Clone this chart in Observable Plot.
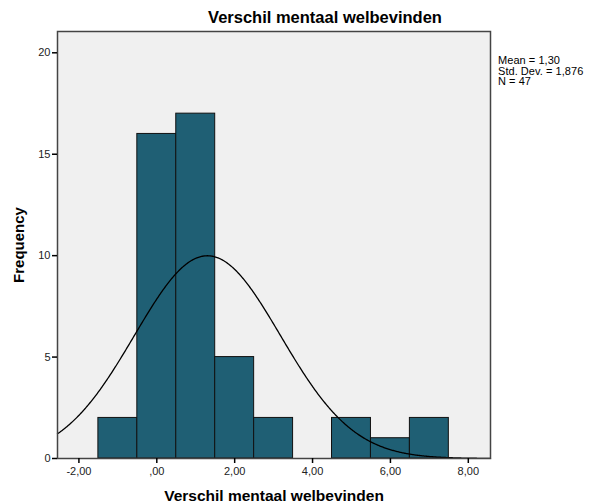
<!DOCTYPE html>
<html>
<head>
<meta charset="utf-8">
<script src="https://cdn.jsdelivr.net/npm/d3@7"></script>
<script src="https://cdn.jsdelivr.net/npm/@observablehq/plot@0.6"></script>
<style>
  html, body { margin: 0; padding: 0; background: #fff; }
  #wrap { position: relative; width: 598px; height: 504px; font-family: "Liberation Sans", Arial, sans-serif; }
  #title { position: absolute; top: 8px; left: 0; width: 650px; text-align: center; font-weight: bold; font-size: 16.5px; color: #000; }
  #stats { position: absolute; left: 498px; top: 55px; font-size: 11px; line-height: 10.5px; color: #000; letter-spacing: 0.05px; }
  #stats div { height: 10.5px; overflow: visible; white-space: nowrap; }
  svg text { font-family: "Liberation Sans", Arial, sans-serif; }
</style>
</head>
<body>
<div id="wrap">
  <div id="title">Verschil mentaal welbevinden</div>
  <div id="stats"><div>Mean = 1,30</div><div>Std. Dev. = 1,876</div><div>N = 47</div></div>
</div>
<script>
// Histogram bins (lower edge, upper edge) and frequencies
const binLower = [-1.5, -0.5, 0.5, 1.5, 2.5, 3.5, 4.5, 5.5, 6.5];
const binUpper = [-0.5, 0.5, 1.5, 2.5, 3.5, 4.5, 5.5, 6.5, 7.5];
const frequency = [2, 16, 17, 5, 2, 0, 2, 1, 2];
const xTicks = [-2, 0, 2, 4, 6, 8];
const yTicks = [0, 5, 10, 15, 20];
const mean = 1.30, sd = 1.876, n = 47, binWidth = 1;
const xDomain = [-2.55, 8.57];
const yDomain = [0, 21.05];

const bars = binLower.map((x1, i) => ({x1, x2: binUpper[i], y: frequency[i]})).filter(d => d.y > 0);

// fitted normal curve defined by the stated mean, SD and N
const curve = d3.range(xDomain[0], xDomain[1] + 1e-9, 0.02).map(x => ({
  x,
  y: n * binWidth / (sd * Math.sqrt(2 * Math.PI)) * Math.exp(-0.5 * ((x - mean) / sd) ** 2)
}));

const fmtX = d => d === 0 ? ",00" : d.toFixed(2).replace(".", ",");

const chart = Plot.plot({
  width: 598,
  height: 504,
  marginLeft: 57,
  marginRight: 108,
  marginTop: 31,
  marginBottom: 46,
  style: {background: "transparent", fontSize: "11px", color: "#000", overflow: "visible"},
  x: {domain: xDomain, ticks: xTicks, tickFormat: fmtX, label: null},
  y: {domain: yDomain, ticks: yTicks, label: null},
  marks: [
    Plot.frame({fill: "#f0f0f0", stroke: null}),
    Plot.rectY(bars, {x1: "x1", x2: "x2", y: "y", fill: "#1f5f74", stroke: "#111", strokeWidth: 1, inset: 0}),
    Plot.line(curve, {x: "x", y: "y", stroke: "#000", strokeWidth: 1.3, curve: "linear"}),
    Plot.frame({stroke: "#444", strokeWidth: 1.5}),
    Plot.axisX({ticks: xTicks, tickFormat: fmtX, tickSize: 5, tickPadding: 4, stroke: "#000", strokeWidth: 1.5, fill: "#222", label: null}),
    Plot.axisY({ticks: yTicks, tickSize: 5, tickPadding: 2, stroke: "#000", strokeWidth: 1.5, fill: "#222", label: null}),
    Plot.text(["Verschil mentaal welbevinden"], {frameAnchor: "bottom", dy: 42, fontWeight: "bold", fontSize: 15.5, fill: "#000"}),
    Plot.text(["Frequency"], {frameAnchor: "left", textAnchor: "middle", dx: -38, rotate: -90, fontWeight: "bold", fontSize: 15, fill: "#000"})
  ]
});
document.getElementById("wrap").prepend(chart);
chart.style.position = "absolute";
chart.style.left = "0";
chart.style.top = "0";
</script>
</body>
</html>
